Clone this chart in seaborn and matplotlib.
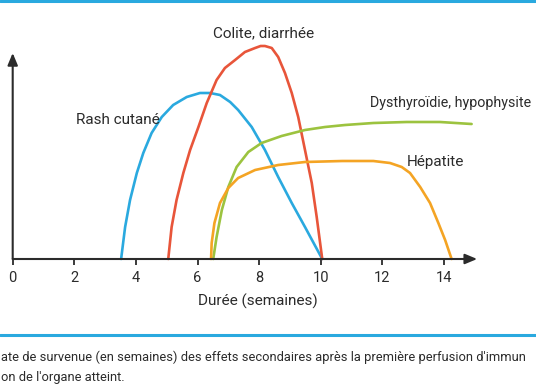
import matplotlib
matplotlib.use("Agg")
import matplotlib.pyplot as plt
import seaborn as sns

# courbes (x en semaines, y en unités arbitraires)
rash_x = [3.52, 3.65, 3.81, 4.03, 4.24, 4.51, 4.84, 5.21, 5.65, 6.08, 6.41, 6.73, 7.06,
          7.32, 7.76, 8.19, 8.62, 9.06, 9.49, 10.05]
rash_y = [0, 32, 59, 86, 106, 126, 142, 154, 162, 166, 166, 164, 157,
          149, 132, 109, 82, 56, 32, 0]

colite_x = [5.05, 5.16, 5.32, 5.54, 5.76, 6.03, 6.30, 6.62, 6.89, 7.22, 7.54, 7.87, 8.05, 8.19,
            8.41, 8.62, 8.84, 9.06, 9.27, 9.49, 9.71, 9.87, 10.05]
colite_y = [0, 32, 59, 86, 109, 132, 156, 179, 191, 199, 207, 211, 213, 213,
            211, 202, 186, 166, 142, 109, 76, 42, 0]

thyro_x = [6.51, 6.62, 6.79, 7.00, 7.27, 7.65, 8.08, 8.73, 9.49, 10.14, 10.79, 11.71, 12.79, 13.87, 14.90]
thyro_y = [0, 22, 49, 72, 92, 107, 116, 123, 129, 132, 134, 136, 137, 137, 135]

hepat_x = [6.44, 6.46, 6.55, 6.73, 7.00, 7.32, 7.87, 8.62, 9.49, 10.70, 11.71, 12.25, 12.63,
           12.90, 13.23, 13.55, 13.82, 14.04, 14.25]
hepat_y = [0, 16, 36, 56, 71, 81, 89, 94, 97, 98, 98, 96, 92,
           86, 72, 56, 36, 19, 0]

x_ticks = [0, 2, 4, 6, 8, 10, 12, 14]

BLUE = "#2aa9df"
RED = "#e8553a"
GREEN = "#9cc33f"
ORANGE = "#f4a424"
INK = "#2b2b2b"

sns.set_theme(style="white")
plt.rcParams["font.family"] = ["Roboto", "DejaVu Sans"]

W, H = 536, 386
fig = plt.figure(figsize=(W / 100, H / 100), dpi=100)

# axes placed so that x=0 sits at px 12.7 and y=0 at px 259 from top
x0_px, px_per_wk = 12.7, 30.8
xmax, ymax = 15.5, 220
ax = fig.add_axes([x0_px / W, (H - 259) / H, xmax * px_per_wk / W, ymax / H])
ax.set_xlim(0, xmax)
ax.set_ylim(0, ymax)

for xs, ys, col in [(rash_x, rash_y, BLUE), (colite_x, colite_y, RED),
                    (thyro_x, thyro_y, GREEN), (hepat_x, hepat_y, ORANGE)]:
    sns.lineplot(x=xs, y=ys, sort=False, color=col, linewidth=1.9, ax=ax, clip_on=False)

for s in ax.spines.values():
    s.set_visible(False)

arrow = dict(arrowstyle="-|>,head_length=0.6,head_width=0.25", color=INK, lw=1.5, shrinkA=0, shrinkB=0)
ax.annotate("", xy=(15.08, 0), xytext=(0, 0), arrowprops=arrow, annotation_clip=False)
ax.annotate("", xy=(0, 206), xytext=(0, 0), arrowprops=arrow, annotation_clip=False)

ax.set_xticks(x_ticks)
ax.set_xticklabels([str(t) for t in x_ticks], fontsize=10.5, color=INK)
ax.tick_params(axis="x", bottom=True, direction="out", length=4, width=1.3, color=INK, pad=5)
ax.set_yticks([])

fs = 11
ax.text(7.97, -42, "Durée (semaines)", ha="center", va="center", fontsize=fs, color=INK)
ax.text(8.16, 226, "Colite, diarrhée", ha="center", va="center", fontsize=fs, color=INK)
ax.text(3.42, 139, "Rash cutané", ha="center", va="center", fontsize=fs, color=INK)
ax.text(11.6, 156, "Dysthyroïdie, hypophysite", ha="left", va="center", fontsize=10.3, color=INK, clip_on=False)
ax.text(12.8, 97, "Hépatite", ha="left", va="center", fontsize=fs, color=INK)

# bandeaux bleus et légende (coupée comme sur l'original)
fig.add_artist(plt.Line2D([0, 1], [1 - 1.2 / H, 1 - 1.2 / H], color=BLUE, lw=2.2))
fig.add_artist(plt.Line2D([0, 1], [1 - 335 / H, 1 - 335 / H], color=BLUE, lw=2.2))
fig.text(1 / W, 1 - 357 / H,
         "ate de survenue (en semaines) des effets secondaires après la première perfusion d'immun",
         ha="left", va="center", fontsize=9.3, color=INK)
fig.text(1 / W, 1 - 377 / H, "on de l'organe atteint.", ha="left", va="center", fontsize=9.3, color=INK)

fig.savefig("out.png", dpi=100)
